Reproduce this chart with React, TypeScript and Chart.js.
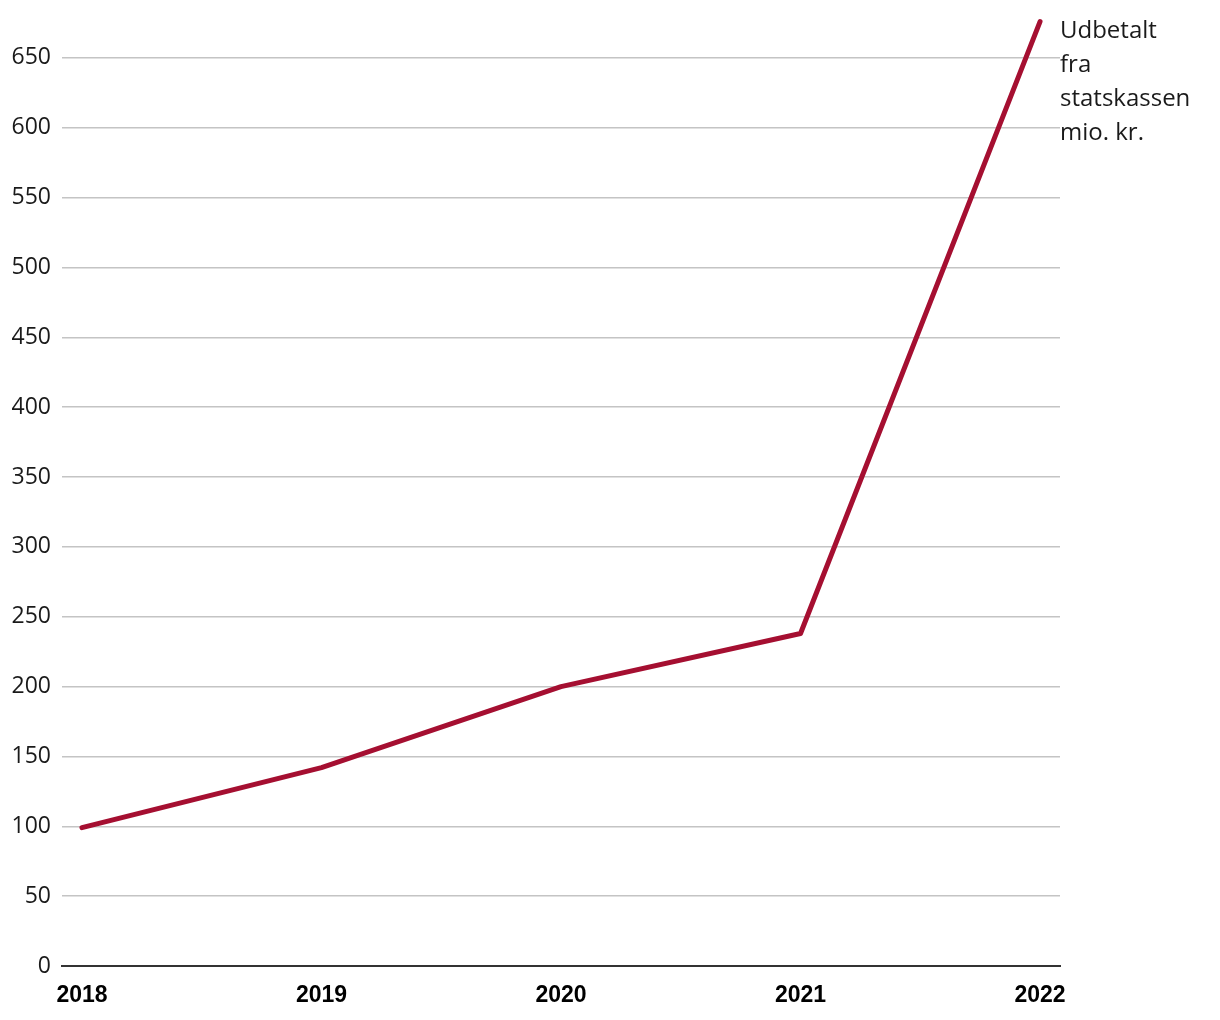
import React, { useEffect, useRef } from "react";
import { Chart, registerables } from "chart.js";

Chart.register(...registerables);

const years = [2018, 2019, 2020, 2021, 2022];
const payouts = [99, 142, 200, 238, 676];
const seriesLabel = ["Udbetalt", "fra", "statskassen", "mio. kr."];
const yMaxTick = 650;
const yStep = 50;

export default function App() {
  const ref = useRef<HTMLCanvasElement | null>(null);
  useEffect(() => {
    if (!ref.current) return;
    const labelPlugin = {
      id: "endLabel",
      afterDraw(chart: any) {
        const ctx = chart.ctx;
        const meta = chart.getDatasetMeta(0);
        const last = meta.data[meta.data.length - 1];
        ctx.save();
        ctx.font = '24px "Open Sans"';
        ctx.fillStyle = "#1a1a1a";
        ctx.textAlign = "left";
        ctx.textBaseline = "alphabetic";
        const x = chart.chartArea.right + 0;
        const y0 = last.y + 16;
        seriesLabel.forEach((t, i) => ctx.fillText(t, x, y0 + i * 34));
        ctx.restore();
      },
    };
    const chart = new Chart(ref.current, {
      type: "line",
      data: {
        datasets: [
          {
            data: years.map((y, i) => ({ x: y, y: payouts[i] })),
            borderColor: "#a50f31",
            borderWidth: 5,
            borderCapStyle: "round",
            borderJoinStyle: "round",
            pointRadius: 0,
            tension: 0,
            clip: false as any,
          },
        ],
      },
      options: {
        animation: false,
        responsive: false,
        layout: { padding: { top: 16, right: 160, left: 0, bottom: 0 } },
        plugins: { legend: { display: false }, tooltip: { enabled: false } },
        scales: {
          x: {
            type: "linear",
            min: years[0] - 1 / 12,
            max: years[years.length - 1] + 1 / 12,
            afterFit: (s: any) => {
              s.height = 54;
              s.paddingLeft = 0;
              s.paddingRight = 0;
            },
            ticks: {
              stepSize: 1,
              includeBounds: false,
              autoSkip: false,
              maxRotation: 0,
              padding: 16,
              color: "#000",
              font: { family: '"Liberation Sans", Arial', size: 23, weight: "bold" },
              callback: (v: any) => String(v),
            },
            grid: { display: false, drawTicks: false },
            border: { display: true, color: "#333", width: 2 },
          },
          y: {
            type: "linear",
            min: 0,
            max: 680,
            afterFit: (s: any) => {
              s.width = 62;
              s.paddingTop = 0;
              s.paddingBottom = 0;
            },
            ticks: {
              stepSize: yStep,
              includeBounds: false,
              padding: 11,
              color: "#1a1a1a",
              font: { family: '"Open Sans"', size: 23 },
              callback: (v: any) => (v <= yMaxTick ? String(v) : ""),
            },
            grid: { color: "#c4c4c4", lineWidth: 1.5, drawTicks: false },
            border: { display: false },
          },
        },
      },
      plugins: [labelPlugin],
    } as any);
    return () => chart.destroy();
  }, []);
  return (
    <div style={{ position: "absolute", left: 0, top: 0, width: 1220, height: 1020, background: "#fff" }}>
      <canvas ref={ref} width={1220} height={1020} style={{ width: 1220, height: 1020 }} />
    </div>
  );
}
